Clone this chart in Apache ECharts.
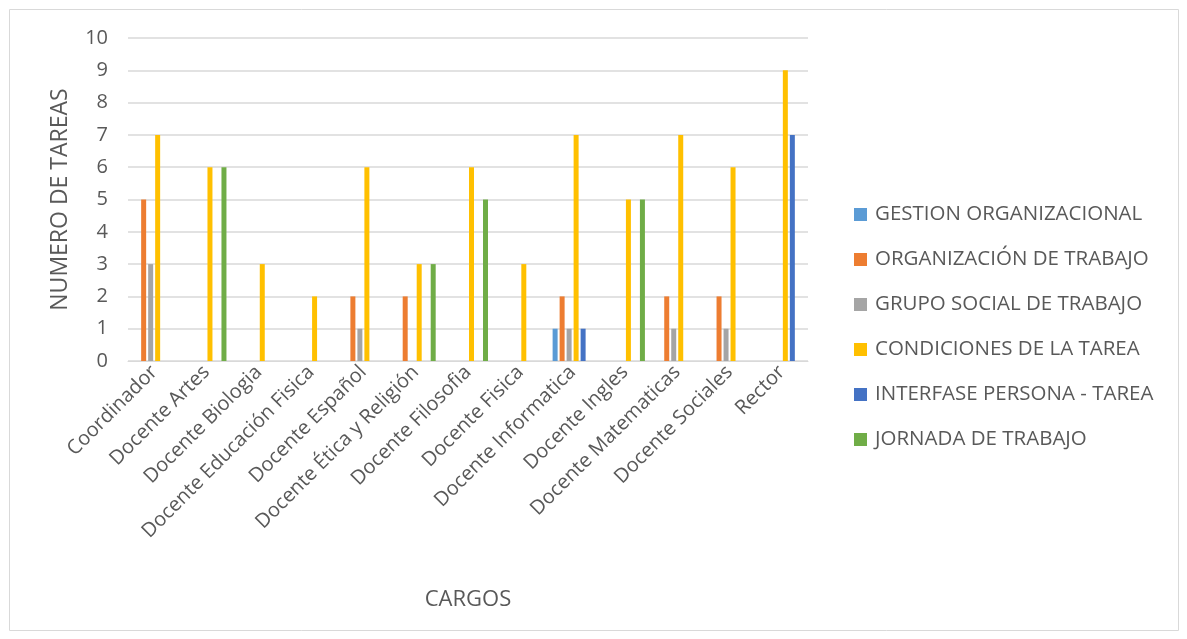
<!DOCTYPE html>
<html><head><meta charset="utf-8">
<script src="https://cdn.jsdelivr.net/npm/echarts@6/dist/echarts.min.js"></script>
<style>html,body{margin:0;padding:0;background:#fff}#c{width:1187px;height:639px}</style>
</head><body><div id="c"></div>
<script>
const categories = ["Coordinador","Docente Artes","Docente Biologia","Docente Educación Fisica","Docente Español","Docente Ética y Religión","Docente Filosofia","Docente Fisica","Docente Informatica","Docente Ingles","Docente Matematicas","Docente Sociales","Rector"];
const seriesNames = ["GESTION ORGANIZACIONAL","ORGANIZACIÓN DE TRABAJO","GRUPO SOCIAL DE TRABAJO","CONDICIONES DE LA TAREA","INTERFASE PERSONA - TAREA","JORNADA DE TRABAJO"];
const gestion     = [0,0,0,0,0,0,0,0,1,0,0,0,0];
const organizacion= [5,0,0,0,2,2,0,0,2,0,2,2,0];
const grupo       = [3,0,0,0,1,0,0,0,1,0,1,1,0];
const condiciones = [7,6,3,2,6,3,6,3,7,5,7,6,9];
const interfase   = [0,0,0,0,0,0,0,0,1,0,0,0,7];
const jornada     = [0,6,0,0,0,3,5,0,0,5,0,0,0];
const yTicks = [0,1,2,3,4,5,6,7,8,9,10];
const colors = ["#5B9BD5","#ED7D31","#A5A5A5","#FFC000","#4472C4","#70AD47"];
const allData = [gestion,organizacion,grupo,condiciones,interfase,jornada];

const font = "Open Sans";
const chart = echarts.init(document.getElementById('c'));
chart.setOption({
  animation:false,
  color: colors,
  textStyle:{fontFamily:font},
  graphic:[{type:'rect',shape:{x:9.5,y:9.5,width:1169,height:621},style:{fill:'none',stroke:'#D9D9D9',lineWidth:1}}],
  grid:{left:128,right:379,top:38,bottom:278},
  legend:{orient:'vertical',left:849,top:199,itemWidth:13,itemHeight:13,itemGap:24,icon:'rect',
    textStyle:{color:'#595959',fontSize:20.5,lineHeight:20,fontFamily:font,padding:[0,0,0,3]},data:seriesNames},
  xAxis:{type:'category',data:categories,
    axisLine:{lineStyle:{color:'#D9D9D9'}},axisTick:{show:false},
    axisLabel:{rotate:45,color:'#595959',fontSize:20,interval:0,margin:8,fontFamily:font},
    name:'CARGOS',nameLocation:'middle',nameGap:228,nameTextStyle:{color:'#595959',fontSize:22,fontFamily:font}},
  yAxis:{type:'value',min:yTicks[0],max:yTicks[yTicks.length-1],interval:1,
    axisLine:{show:false},axisTick:{show:false},
    splitLine:{lineStyle:{color:'#D9D9D9',width:1.5}},
    axisLabel:{color:'#595959',fontSize:20,margin:20,fontFamily:font},
    name:'NUMERO DE TAREAS',nameLocation:'middle',nameGap:56,nameTextStyle:{color:'#595959',fontSize:23,fontFamily:font}},
  series: seriesNames.map((n,i)=>({name:n,type:'bar',data:allData[i],barWidth:5,barGap:'40%',barCategoryGap:'23%'}))
});
</script></body></html>
